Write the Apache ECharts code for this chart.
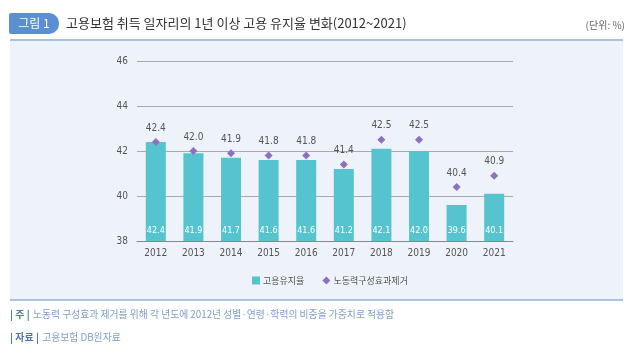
<!DOCTYPE html>
<html><head><meta charset="utf-8">
<script src="https://cdn.jsdelivr.net/npm/echarts@6/dist/echarts.min.js"></script>
<style>html,body{margin:0;padding:0;background:#fff}#c{width:640px;height:360px}</style>
</head><body><div id="c"></div>
<script>
const years = ['2012','2013','2014','2015','2016','2017','2018','2019','2020','2021'];
const retention = [42.4, 41.9, 41.7, 41.6, 41.6, 41.2, 42.1, 42.0, 39.6, 40.1];
const adjusted = [42.4, 42.0, 41.9, 41.8, 41.8, 41.4, 42.5, 42.5, 40.4, 40.9];
const yTicks = [38, 40, 42, 44, 46];
const seriesNames = ['고용유지율', '노동력구성효과제거'];
const titleText = '고용보험 취득 일자리의 1년 이상 고용 유지율 변화(2012~2021)';
const FONT = '"Noto Sans CJK KR", "Noto Sans", sans-serif';
const NUM = '"DejaVu Sans Condensed", "Liberation Sans Narrow", "Noto Sans CJK KR", sans-serif';

const chart = echarts.init(document.getElementById('c'), null, {renderer: 'canvas'});
chart.setOption({
  backgroundColor: '#fff',
  textStyle: {fontFamily: FONT},
  animation: false,
  graphic: [
    {type: 'rect', shape: {x: 10, y: 40, width: 613, height: 260}, style: {fill: '#eef2fa'}, z: -10},
    {type: 'rect', shape: {x: 10, y: 39, width: 613, height: 2}, style: {fill: '#a8c0e4'}, z: -9},
    {type: 'rect', shape: {x: 10, y: 299, width: 613, height: 2}, style: {fill: '#a8c0e4'}, z: -9},
    {type: 'rect', shape: {x: 9, y: 13, width: 50, height: 21, r: [2, 10, 10, 2]}, style: {fill: '#5b8fd1'}},
    {type: 'text', x: 34, y: 23.5, style: {text: '그림 1', fill: '#fff', font: '12px ' + FONT, align: 'center', verticalAlign: 'middle'}},
    {type: 'text', x: 66, y: 23.5, style: {text: titleText, fill: '#333', font: '13px ' + FONT, verticalAlign: 'middle'}},
    {type: 'text', x: 625, y: 25, style: {text: '(단위: %)', fill: '#666', font: '10px ' + FONT, align: 'right', verticalAlign: 'middle'}},
    {type: 'text', x: 10, y: 314, style: {rich: {b: {fontFamily: FONT, fontSize: 10, fontWeight: 'bold', fill: '#4d76b4'}, n: {fontFamily: FONT, fontSize: 9.8, fill: '#7e9dcb'}}, text: '{b|| 주 |} {n|노동력 구성효과 제거를 위해 각 년도에 2012년 성별·연령·학력의 비중을 가중치로 적용함}', verticalAlign: 'middle'}},
    {type: 'text', x: 10, y: 337, style: {rich: {b: {fontFamily: FONT, fontSize: 10, fontWeight: 'bold', fill: '#4d76b4'}, n: {fontFamily: FONT, fontSize: 9.8, fill: '#7e9dcb'}}, text: '{b|| 자료 |} {n|고용보험 DB원자료}', verticalAlign: 'middle'}}
  ],
  legend: {
    top: 271, left: 247,
    itemWidth: 8, itemHeight: 8, itemGap: 18,
    textStyle: {fontSize: 9, color: '#555', fontFamily: FONT, padding: [0, 0, 0, -2]},
    data: [{name: seriesNames[0], icon: 'rect'}, {name: seriesNames[1], icon: 'diamond'}]
  },
  grid: {left: 137, right: 127, top: 61, bottom: 119},
  xAxis: {
    type: 'category', data: years,
    axisLine: {lineStyle: {color: '#888'}},
    axisTick: {alignWithLabel: false, length: 4, lineStyle: {color: '#888'}},
    axisLabel: {color: '#555', fontSize: 10, margin: 7, fontFamily: NUM}
  },
  yAxis: {
    type: 'value', min: yTicks[0], max: yTicks[yTicks.length - 1], interval: 2,
    axisLine: {show: false}, axisTick: {show: false},
    axisLabel: {color: '#555', fontSize: 10, margin: 9, fontFamily: NUM},
    splitLine: {lineStyle: {color: '#aaa', width: 1}}
  },
  series: [
    {
      name: seriesNames[0], type: 'bar', data: retention, barWidth: 20,
      itemStyle: {color: '#55c4cf'},
      label: {show: true, position: 'insideBottom', distance: 6, color: '#fff', fontSize: 9, fontFamily: NUM, formatter: p => p.value.toFixed(1)}
    },
    {
      name: seriesNames[1], type: 'line', data: adjusted,
      lineStyle: {width: 0, opacity: 0}, symbol: 'diamond', symbolSize: 8,
      itemStyle: {color: '#8f70c0'},
      label: {show: true, position: 'top', distance: 5, color: '#555', fontSize: 10, fontFamily: NUM, formatter: p => p.value.toFixed(1)},
      z: 5
    }
  ]
});
</script></body></html>
